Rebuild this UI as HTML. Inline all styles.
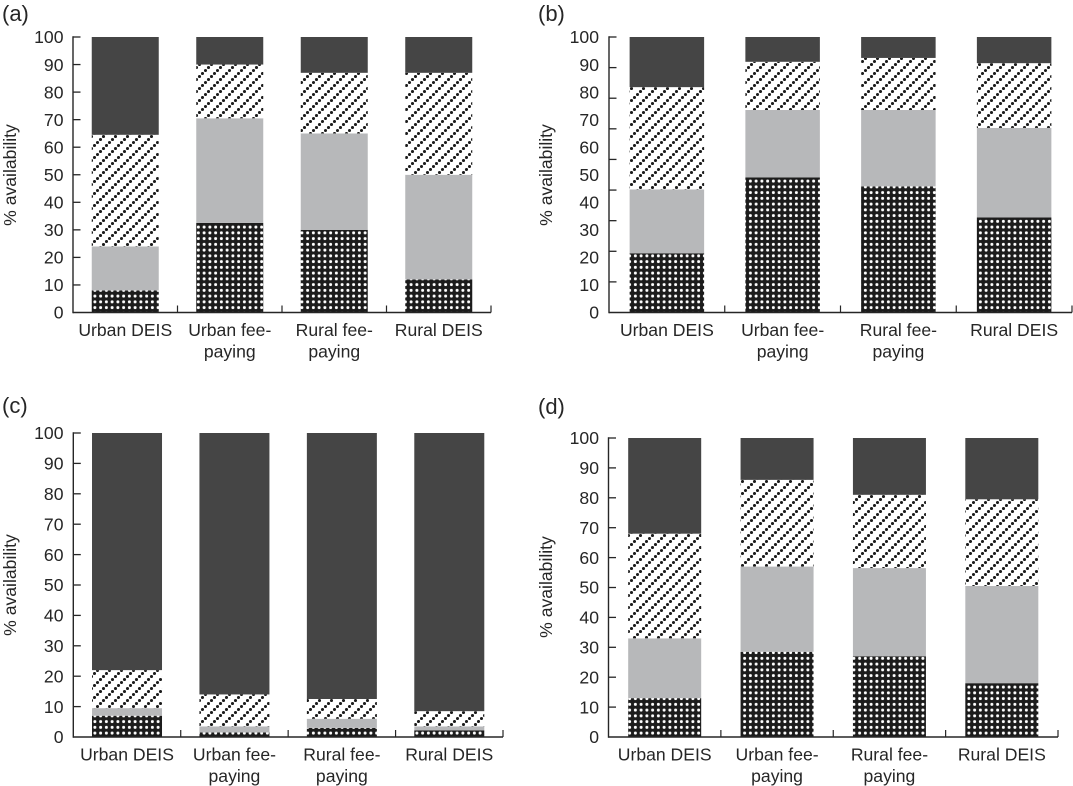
<!DOCTYPE html>
<html lang="en">
<head>
<meta charset="utf-8">
<title>% availability by school type</title>
<style>
  html, body { margin: 0; padding: 0; background: #fff; }
  svg { display: block; }
  text { font-family: "Liberation Sans", sans-serif; fill: #262626; }
</style>
</head>
<body>
<svg id="chart" xmlns="http://www.w3.org/2000/svg" width="1073" height="786" viewBox="0 0 1073 786">
  <defs>
    <pattern id="pat-dots" patternUnits="userSpaceOnUse" width="5.75" height="5.75">
      <rect width="5.75" height="5.75" fill="#1c1c1c"/>
      <circle cx="2.87" cy="2.87" r="1.5" fill="#fff"/>
    </pattern>
    <pattern id="pat-hatch" patternUnits="userSpaceOnUse" width="12" height="12">
      <rect width="12" height="12" fill="#fff"/>
      <circle cx="1.5" cy="10.5" r="1.55" fill="#1c1c1c"/>
      <circle cx="4.5" cy="7.5" r="1.55" fill="#1c1c1c"/>
      <circle cx="7.5" cy="4.5" r="1.55" fill="#1c1c1c"/>
      <circle cx="10.5" cy="1.5" r="1.55" fill="#1c1c1c"/>
    </pattern>
  </defs>
</svg>
<script>
// Shared labels
const categories = ['Urban DEIS', 'Urban fee-paying', 'Rural fee-paying', 'Rural DEIS'];
const tickLabels = [0, 10, 20, 30, 40, 50, 60, 70, 80, 90, 100];

// Panel (a) series values (% of availability per segment, bottom to top)
const aDots  = [8, 32.5, 30, 12];
const aGrey  = [16, 38, 35, 38];
const aHatch = [40.5, 19.5, 22, 37];
const aDark  = [35.5, 10, 13, 13];

// Panel (b)
const bDots  = [21.5, 49, 45.8, 34.5];
const bGrey  = [23.2, 24.5, 27.7, 32.5];
const bHatch = [37.1, 17.5, 18.9, 23.5];
const bDark  = [18.2, 9, 7.6, 9.5];

// Panel (c)
const cDots  = [7, 1.5, 3, 2.2];
const cGrey  = [2.5, 2, 3, 1.3];
const cHatch = [12.5, 10.5, 6.5, 5];
const cDark  = [78, 86, 87.5, 91.5];

// Panel (d)
const dDots  = [13, 28.5, 27, 18];
const dGrey  = [20, 28.5, 29.5, 32.5];
const dHatch = [35, 29, 24.5, 29];
const dDark  = [32, 14, 19, 20.5];

// Axis tick mark values (panel b has nine tick intervals in the figure)
const standardTickMarks = [0, 10, 20, 30, 40, 50, 60, 70, 80, 90, 100];
const panelBTickMarks = [0, 11.11, 22.22, 33.33, 44.44, 55.56, 66.67, 77.78, 88.89, 100];

const panels = [
  { id: 'a', left: 73, right: 491, y0: 312.5, y100: 37, barW: 67, titleX: 2, titleY: 21, yTitleX: 10, yTitleY: 175, labelX: 63.5,
    marks: standardTickMarks, dots: aDots, grey: aGrey, hatch: aHatch, dark: aDark },
  { id: 'b', left: 609, right: 1072, y0: 312.5, y100: 37, barW: 74.5, titleX: 538, titleY: 21, yTitleX: 546, yTitleY: 175, labelX: 599,
    marks: panelBTickMarks, dots: bDots, grey: bGrey, hatch: bHatch, dark: bDark },
  { id: 'c', left: 73.3, right: 503, y0: 737, y100: 433, barW: 70, titleX: 2, titleY: 413, yTitleX: 10, yTitleY: 585, labelX: 63.5,
    marks: standardTickMarks, dots: cDots, grey: cGrey, hatch: cHatch, dark: cDark },
  { id: 'd', left: 608.5, right: 1058, y0: 737, y100: 438, barW: 73, titleX: 538, titleY: 414, yTitleX: 546, yTitleY: 587, labelX: 599,
    marks: standardTickMarks, dots: dDots, grey: dGrey, hatch: dHatch, dark: dDark }
];

const NS = 'http://www.w3.org/2000/svg';
const svg = document.getElementById('chart');
const FONT = 17.6;
const AXIS = '#262626';

function mk(tag, attrs, parent, txt) {
  const el = document.createElementNS(NS, tag);
  for (const k in attrs) el.setAttribute(k, attrs[k]);
  if (txt !== undefined) el.textContent = txt;
  parent.appendChild(el);
  return el;
}

panels.forEach(function (p) {
  const yScale = function (v) { return p.y0 - (p.y0 - p.y100) * v / 100; };
  const bandW = (p.right - p.left) / categories.length;
  const xCenter = function (i) { return p.left + (i + 0.5) * bandW; };

  const g = mk('g', {}, svg);
  
  

  const title = mk('text', { x: p.titleX, y: p.titleY, 'font-size': 22 }, g, '(' + p.id + ')');
  
  

  const yTitle = mk('text', {
    x: 0, y: 0, 'font-size': FONT, 'text-anchor': 'middle',
    transform: 'translate(' + (p.yTitleX + 6) + ',' + p.yTitleY + ') rotate(-90)'
  }, g, '% availability');
  
  

  const seriesList = [
    { key: 'dots', values: p.dots, fill: 'url(#pat-dots)' },
    { key: 'grey', values: p.grey, fill: '#b7b8ba' },
    { key: 'hatch', values: p.hatch, fill: 'url(#pat-hatch)' },
    { key: 'dark', values: p.dark, fill: '#454545' }
  ];

  categories.forEach(function (cat, i) {
    let cum = 0;
    seriesList.forEach(function (s) {
      const v = s.values[i];
      const top = yScale(cum + v);
      const bottom = yScale(cum);
      const seg = mk('rect', {
        x: xCenter(i) - p.barW / 2, y: top, width: p.barW, height: bottom - top, fill: s.fill
      }, g);
      
      
      cum += v;
    });

    const lines = cat.split(/(?<=-)/);
    lines.forEach(function (line, li) {
      const lab = mk('text', {
        x: xCenter(i), y: p.y0 + 23.5 + li * 21.5, 'font-size': FONT, 'text-anchor': 'middle'
      }, g, line);
      
      
    });
  });

  // Axes
  const yAxis = mk('line', { x1: p.left, x2: p.left, y1: yScale(100) - 0.7, y2: p.y0 + 0.7, stroke: AXIS, 'stroke-width': 1.4 }, g);
  
  

  const xAxis = mk('line', { x1: p.left, x2: p.right, y1: p.y0, y2: p.y0, stroke: AXIS, 'stroke-width': 1.4 }, g);
  
  

  p.marks.forEach(function (m) {
    if (m === 0) return;
    const t = mk('line', { x1: p.left, x2: p.left + 7.5, y1: yScale(m), y2: yScale(m), stroke: AXIS, 'stroke-width': 1.3 }, g);
    
    
  });

  tickLabels.forEach(function (v) {
    const t = mk('text', {
      x: p.labelX, y: yScale(v) + 6.2, 'font-size': FONT, 'text-anchor': 'end'
    }, g, String(v));
    
    
  });

  for (let i = 1; i <= categories.length; i++) {
    const x = p.left + i * bandW;
    const t = mk('line', { x1: x, x2: x, y1: p.y0, y2: p.y0 - 7, stroke: AXIS, 'stroke-width': 1.2 }, g);
    
    
  }
});
</script>
</body>
</html>
